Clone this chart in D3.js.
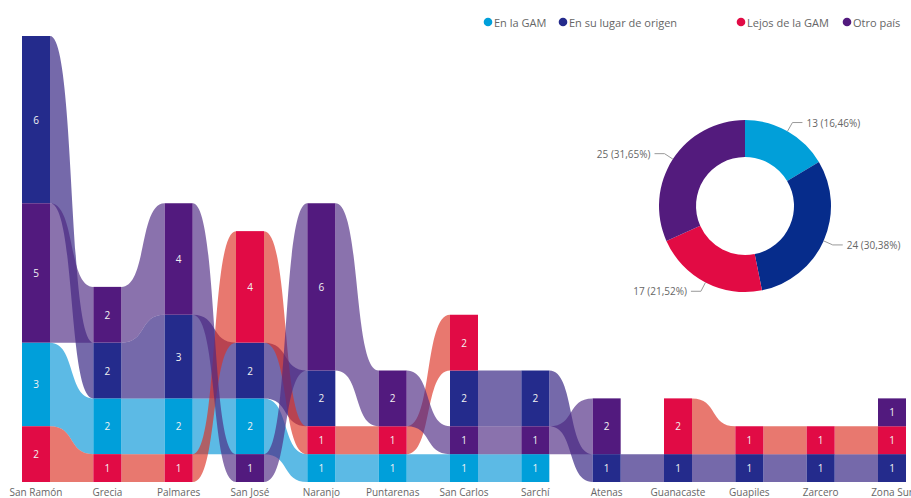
<!DOCTYPE html>
<html>
<head>
<meta charset="utf-8">
<script src="https://cdn.jsdelivr.net/npm/d3@7"></script>
<style>
  html, body { margin: 0; padding: 0; background: #fff; }
  svg { display: block; font-family: "Open Sans", "Segoe UI", sans-serif; }
</style>
</head>
<body>
<svg id="chart" width="911" height="498"></svg>
<script>
// ---- Data ----
const categories = ["San Ramón","Grecia","Palmares","San José","Naranjo","Puntarenas","San Carlos","Sarchí","Atenas","Guanacaste","Guapiles","Zarcero","Zona Sur"];
const seriesNames = ["En la GAM","En su lugar de origen","Lejos de la GAM","Otro país"];
const enLaGAM      = [3,2,2,2,1,1,1,1,0,0,0,0,0];
const lugarOrigen  = [6,2,3,2,2,0,2,2,1,1,1,1,1];
const lejosGAM     = [2,1,1,4,1,1,2,0,0,2,1,1,1];
const otroPais     = [5,2,4,1,6,2,1,1,2,0,0,0,1];

// ---- Styles ----
const barColors    = ["#009FDA","#242B8C","#E10B45","#521A7E"];
const ribbonColors = ["#0595D7","#2B197D","#DC3022","#4B2681"];
const donutColors  = ["#019FD9","#062C8B","#E20B44","#531B7D"];

const seriesValues = [enLaGAM, lugarOrigen, lejosGAM, otroPais];
const svg = d3.select("#chart");

// ---- Stack: per category, ascending by value, ties by series order ----
const stacks = categories.map((c, ci) => {
  const items = seriesValues.map((arr, si) => ({ si, v: arr[ci] }))
    .filter(d => d.v > 0)
    .sort((a, b) => a.v - b.v || a.si - b.si);
  let acc = 0;
  const m = {};
  items.forEach(d => { m[d.si] = { y0: acc, y1: acc + d.v, v: d.v }; acc += d.v; });
  return { cat: c, total: acc, m };
});

const x = d3.scaleBand().domain(categories).range([22, 906]).paddingInner(0.6075).paddingOuter(0);
const y = d3.scaleLinear().domain([0, d3.max(stacks, s => s.total)]).range([482, 36]);
const bw = x.bandwidth();

// ---- Ribbons ----
const a = 0.6;
const ribbonG = svg.append("g");
seriesValues.forEach((arr, si) => {
  for (let i = 0; i < categories.length - 1; i++) {
    const A = stacks[i].m[si], B = stacks[i + 1].m[si];
    if (!A || !B) continue;
    const x0 = x(categories[i]) + bw, x1 = x(categories[i + 1]);
    const dx = x1 - x0;
    const p = d3.path();
    p.moveTo(x0, y(A.y1));
    p.bezierCurveTo(x0 + a * dx, y(A.y1), x1 - a * dx, y(B.y1), x1, y(B.y1));
    p.lineTo(x1, y(B.y0));
    p.bezierCurveTo(x1 - a * dx, y(B.y0), x0 + a * dx, y(A.y0), x0, y(A.y0));
    p.closePath();
    ribbonG.append("path").attr("d", p.toString())
      .attr("fill", ribbonColors[si]).attr("fill-opacity", 0.65);
  }
});

// ---- Bars ----
const barG = svg.append("g");
stacks.forEach((s, ci) => {
  Object.keys(s.m).forEach(k => {
    const si = +k, d = s.m[k];
    barG.append("rect")
      .attr("x", x(s.cat)).attr("width", bw)
      .attr("y", y(d.y1)).attr("height", y(d.y0) - y(d.y1))
      .attr("fill", barColors[si]);
    barG.append("text")
      .attr("x", x(s.cat) + bw / 2)
      .attr("y", (y(d.y0) + y(d.y1)) / 2)
      .attr("text-anchor", "middle").attr("dominant-baseline", "central")
      .attr("fill", "#f2f2f2").attr("font-size", "10px")
      .text(d.v);
  });
});

// ---- X axis ----
const xAxis = svg.append("g").attr("transform", "translate(0,482)")
  .call(d3.axisBottom(x).tickSize(0).tickPadding(7));
xAxis.select(".domain").remove();
xAxis.selectAll("text").attr("fill", "#666").attr("font-size", "10px")
  .attr("font-family", "'Open Sans', sans-serif");

// ---- Legend ----
const legendX = [488, 563, 741, 847];
const lg = svg.append("g");
seriesNames.forEach((n, i) => {
  lg.append("circle").attr("cx", legendX[i]).attr("cy", 22).attr("r", 4.3).attr("fill", barColors[i]);
  lg.append("text").attr("x", legendX[i] + 6).attr("y", 22.5)
    .attr("dominant-baseline", "central").attr("font-size", "11px").attr("fill", "#666").text(n);
});

// ---- Donut ----
const totals = seriesValues.map(arr => d3.sum(arr));
const grand = d3.sum(totals);
const cx = 745, cy = 206, rOut = 86, rIn = 49;
const pie = d3.pie().sort(null).value(d => d);
const arcs = pie(totals);
const arcGen = d3.arc().innerRadius(rIn).outerRadius(rOut);
const dg = svg.append("g").attr("transform", `translate(${cx},${cy})`);
dg.selectAll("path.slice").data(arcs).enter().append("path")
  .attr("class", "slice").attr("d", arcGen)
  .attr("fill", (d, i) => donutColors[i]);

const fmt = d3.format(".2f");
arcs.forEach((d, i) => {
  const mid = (d.startAngle + d.endAngle) / 2;
  const sx = Math.sin(mid), sy = -Math.cos(mid);
  const p0 = [rOut * sx, rOut * sy];
  const p1 = [(rOut + 10) * sx, (rOut + 10) * sy];
  const dir = sx >= 0 ? 1 : -1;
  const p2 = [p1[0] + 10 * dir, p1[1]];
  dg.append("polyline").attr("points", [p0, p1, p2].map(p => p.join(",")).join(" "))
    .attr("fill", "none").attr("stroke", "#999").attr("stroke-width", 1);
  const pct = fmt(d.data / grand * 100).replace(".", ",");
  dg.append("text").attr("x", p2[0] + 4 * dir).attr("y", p2[1])
    .attr("text-anchor", dir > 0 ? "start" : "end")
    .attr("dominant-baseline", "central")
    .attr("font-size", "10px").attr("fill", "#666")
    .text(`${d.data} (${pct}%)`);
});
</script>
</body>
</html>
